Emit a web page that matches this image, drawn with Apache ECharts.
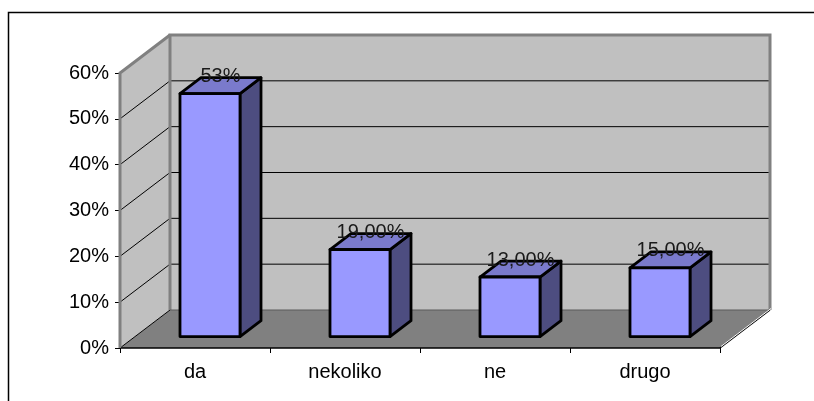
<!DOCTYPE html>
<html>
<head>
<meta charset="utf-8">
<script src="https://cdn.jsdelivr.net/npm/echarts@6/dist/echarts.min.js"></script>
<style>
  html, body { margin: 0; padding: 0; background: #fff; }
  #chart { width: 814px; height: 401px; }
</style>
</head>
<body>
<div id="chart"></div>
<script>
// Survey answers and their shares
const categories = ['da', 'nekoliko', 'ne', 'drugo'];
const values = [0.53, 0.19, 0.13, 0.15];
const labelDecimals = [0, 2, 2, 2];

// Value axis ticks
const yMin = 0;
const yMax = 0.6;
const yStep = 0.1;
const yTicks = [0, 0.1, 0.2, 0.3, 0.4, 0.5, 0.6];

// Oblique projection of the chart depth
const DEPTH_X = 50;
const DEPTH_Y = -38;
const BAR_FRONT = 0.30;   // bar front face, as a share of depth
const BAR_DEPTH = 0.42;   // bar depth, as a share of depth
const BAR_HALF = 0.2;     // half bar width, as a share of the band

const FONT = '"Liberation Sans", Arial, sans-serif';

function formatPct(v, decimals) {
  return (v * 100).toFixed(decimals).replace('.', ',') + '%';
}

const chart = echarts.init(document.getElementById('chart'), null, { renderer: 'canvas' });

function renderWalls(params, api) {
  const cs = params.coordSys;
  const x0 = cs.x, x1 = cs.x + cs.width;
  const yb = cs.y + cs.height, yt = cs.y;
  const bx0 = x0 + DEPTH_X, bx1 = x1 + DEPTH_X;
  const byb = yb + DEPTH_Y, byt = yt + DEPTH_Y;
  const children = [];
  // floor
  children.push({ type: 'polygon', shape: { points: [[x0, yb], [x1, yb], [bx1, byb], [bx0, byb]] },
    style: { fill: '#808080' } });
  // side wall
  children.push({ type: 'polygon', shape: { points: [[x0, yb], [x0, yt], [bx0, byt], [bx0, byb]] },
    style: { fill: '#c0c0c0' } });
  // back wall
  children.push({ type: 'rect', shape: { x: bx0, y: byt, width: bx1 - bx0, height: byb - byt },
    style: { fill: '#c0c0c0' } });
  // gridlines on both walls
  yTicks.forEach(function (t) {
    const y = api.coord([0, t])[1];
    if (t < yMax) {
      children.push({ type: 'line', shape: { x1: x0, y1: y, x2: bx0, y2: y + DEPTH_Y },
        style: { stroke: '#000', lineWidth: 1 } });
    }
    if (t > yMin && t < yMax) {
      children.push({ type: 'line', shape: { x1: bx0, y1: y + DEPTH_Y, x2: bx1, y2: y + DEPTH_Y },
        style: { stroke: '#000', lineWidth: 1 } });
    }
  });
  // wall edges
  const edge = { stroke: '#808080', lineWidth: 3 };
  children.push({ type: 'polyline', shape: { points: [[bx0, byb], [bx0, byt], [bx1, byt], [bx1, byb]] }, style: Object.assign({ fill: null }, edge) });
  children.push({ type: 'polyline', shape: { points: [[x0, yb], [x0, yt], [bx0, byt]] }, style: Object.assign({ fill: null }, edge) });
  children.push({ type: 'line', shape: { x1: bx0, y1: byb, x2: bx1, y2: byb }, style: { stroke: '#5a5a5a', lineWidth: 1 } });
  // front floor edges
  children.push({ type: 'line', shape: { x1: x1, y1: yb, x2: bx1, y2: byb }, style: { stroke: '#000', lineWidth: 1.2 } });
  children.push({ type: 'line', shape: { x1: x1 + 1, y1: yb - 1.5, x2: bx1 + 1, y2: byb - 1.5 }, style: { stroke: '#ffffff', lineWidth: 1 } });
  children.push({ type: 'line', shape: { x1: x0, y1: yb, x2: x1, y2: yb }, style: { stroke: '#000', lineWidth: 1.5 } });
  children.push({ type: 'line', shape: { x1: x0, y1: yb, x2: x0, y2: yt }, style: { stroke: '#808080', lineWidth: 2 } });
  return { type: 'group', children: children };
}

function renderBar(params, api) {
  const idx = api.value(0);
  const val = api.value(1);
  const base = api.coord([idx, 0]);
  const top = api.coord([idx, val]);
  const band = api.size([1, 0])[0];
  const half = band * BAR_HALF;
  const fx = BAR_FRONT * DEPTH_X, fy = BAR_FRONT * DEPTH_Y;
  const dx = BAR_DEPTH * DEPTH_X, dy = BAR_DEPTH * DEPTH_Y;
  const l = base[0] - half + fx, r = base[0] + half + fx;
  const b = base[1] + fy, t = top[1] + fy;
  const stroke = { stroke: '#000', lineWidth: 2.8, lineJoin: 'round' };
  return {
    type: 'group',
    children: [
      { type: 'polygon', shape: { points: [[r, b], [r, t], [r + dx, t + dy], [r + dx, b + dy]] },
        style: Object.assign({ fill: '#4d4d80' }, stroke) },
      { type: 'polygon', shape: { points: [[l, t], [r, t], [r + dx, t + dy], [l + dx, t + dy]] },
        style: Object.assign({ fill: '#7a7acc' }, stroke) },
      { type: 'rect', shape: { x: l, y: t, width: r - l, height: b - t },
        style: Object.assign({ fill: '#9999ff' }, stroke) },
      { type: 'text', style: {
          text: formatPct(values[idx], labelDecimals[idx]),
          x: (l + r) / 2 + dx / 2, y: t + dy - 1,
          align: 'center', verticalAlign: 'middle',
          fontSize: 20, fontFamily: FONT, fill: '#1a1a1a' } }
    ]
  };
}

chart.setOption({
  animation: false,
  backgroundColor: '#ffffff',
  textStyle: { fontFamily: FONT },
  grid: { left: 120, right: 94, top: 73, bottom: 53, containLabel: false },
  xAxis: {
    type: 'category',
    data: categories,
    boundaryGap: true,
    axisLine: { show: false },
    axisTick: { show: true, length: 5, lineStyle: { color: '#000', width: 1 } },
    axisLabel: { color: '#000', fontSize: 20, fontFamily: FONT, margin: 14 },
    splitLine: { show: false }
  },
  yAxis: {
    type: 'value',
    min: yMin, max: yMax, interval: yStep,
    axisLine: { show: false },
    axisTick: { show: true, length: 5, lineStyle: { color: '#000', width: 1 } },
    axisLabel: { color: '#000', fontSize: 20, fontFamily: FONT, margin: 11,
      formatter: function (v) { return Math.round(v * 100) + '%'; } },
    splitLine: { show: false }
  },
  graphic: [{
    type: 'rect', silent: true, z: 100,
    shape: { x: 8.5, y: 12.5, width: 900, height: 500 },
    style: { fill: null, stroke: '#000', lineWidth: 1.5 }
  }],
  series: [
    {
      type: 'custom', silent: true, z: 1,
      renderItem: renderWalls,
      data: [[0, 0]],
      encode: { x: 0, y: 1 }
    },
    {
      type: 'custom', silent: true, z: 3,
      renderItem: renderBar,
      data: values.map(function (v, i) { return [i, v]; }),
      encode: { x: 0, y: 1 }
    }
  ]
});
</script>
</body>
</html>
